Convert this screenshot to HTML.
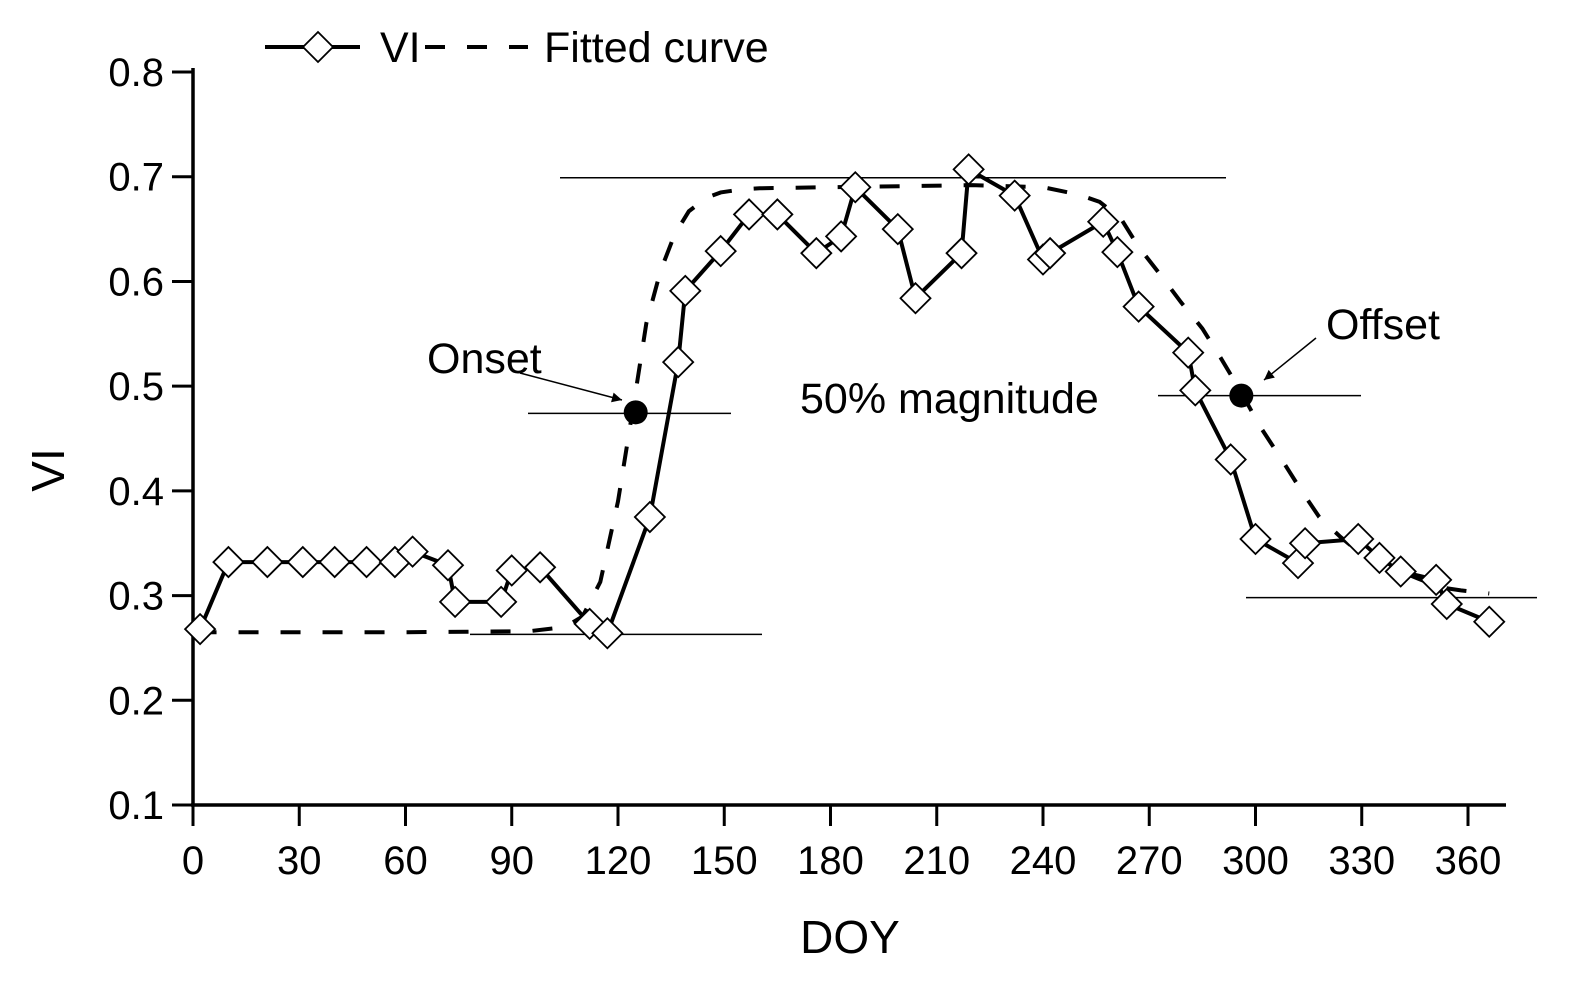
<!DOCTYPE html>
<html><head><meta charset="utf-8"><style>
html,body{margin:0;padding:0;background:#fff;}
svg{display:block;font-family:"Liberation Sans",Arial,sans-serif;}
</style></head><body>
<svg id="chart" width="1572" height="985" viewBox="0 0 1572 985"></svg>
<script>
const xTicks=[0,30,60,90,120,150,180,210,240,270,300,330,360];
const yTicks=[0.1,0.2,0.3,0.4,0.5,0.6,0.7,0.8];
const viDoy=[2,10,21,31,40,49,57,62,72,74,87,90,98,112,117,129,137,139,149,157,165,176,183,187,199,204,217,219,232,240,242,257,261,267,281,283,293,300,312,314,329,335,341,351,354,366];
const viVal=[0.268,0.332,0.332,0.332,0.332,0.332,0.332,0.342,0.329,0.294,0.294,0.324,0.327,0.273,0.264,0.375,0.523,0.591,0.629,0.664,0.664,0.627,0.643,0.690,0.650,0.584,0.627,0.707,0.682,0.621,0.627,0.657,0.628,0.576,0.532,0.496,0.430,0.354,0.331,0.350,0.354,0.336,0.323,0.315,0.292,0.275];
const fitDoy=[1,60,95,105,110,115,120,125,128,132,136,140,145,149,155,160,180,220,240,250,256,262,267,273,279,285,290,296,301,307,313,318,324,329,335,341,346,352,358,366];
const fitVal=[0.265,0.265,0.266,0.270,0.280,0.313,0.390,0.495,0.560,0.610,0.645,0.667,0.680,0.685,0.688,0.689,0.690,0.692,0.690,0.683,0.676,0.660,0.633,0.607,0.580,0.555,0.528,0.494,0.463,0.432,0.400,0.375,0.356,0.342,0.332,0.323,0.316,0.308,0.305,0.302];
const onset=[125,0.475], offset=[296,0.491];
const NS="http://www.w3.org/2000/svg";
const svg=document.getElementById('chart');
const X=d=>193+d*(1275/360);
const Y=v=>805-(v-0.1)*1047.1;
function el(t,a,p){const e=document.createElementNS(NS,t);for(const k in a)e.setAttribute(k,a[k]);(p||svg).appendChild(e);return e;}
let ax=el('line',{x1:193,y1:68,x2:193,y2:806,stroke:'#000','stroke-width':3.5});


ax=el('line',{x1:191,y1:805,x2:1506,y2:805,stroke:'#000','stroke-width':3.5});


yTicks.forEach(v=>{
 const t=el('line',{x1:172,y1:Y(v),x2:193,y2:Y(v),stroke:'#000','stroke-width':3});
 
 
 const l=el('text',{x:164,y:Y(v)+14,'text-anchor':'end','font-size':40});
 l.textContent=v.toFixed(1);
 
 
});
xTicks.forEach(d=>{
 const t=el('line',{x1:X(d),y1:805,x2:X(d),y2:826,stroke:'#000','stroke-width':3});
 
 
 const l=el('text',{x:X(d),y:874,'text-anchor':'middle','font-size':40});
 l.textContent=d;
 
 
});
let t=el('text',{x:850,y:953,'text-anchor':'middle','font-size':46});t.textContent='DOY';


t=el('text',{x:0,y:0,'text-anchor':'middle','font-size':46,transform:'translate(64,470) rotate(-90)'});t.textContent='VI';


function hl(x1,x2,y,name){const l=el('line',{x1:x1,x2:x2,y1:y,y2:y,stroke:'#000','stroke-width':1.5});
 
 }
hl(560,1226,Y(0.699),'max-line');
hl(470,762,Y(0.263),'base-line-left');
hl(528,731,Y(0.474),'onset-line');
hl(1158,1361,Y(0.491),'offset-line');
hl(1246,1537,Y(0.298),'base-line-right');
let p=el('polyline',{points:fitDoy.map((d,i)=>X(d)+','+Y(fitVal[i])).join(' '),fill:'none',stroke:'#000','stroke-width':4,'stroke-dasharray':'20 22'});


p=el('polyline',{points:viDoy.map((d,i)=>X(d)+','+Y(viVal[i])).join(' '),fill:'none',stroke:'#000','stroke-width':4});


viDoy.forEach((d,i)=>{
 const x=X(d),y=Y(viVal[i]);
 const m=el('polygon',{points:`${x},${y-15} ${x+15},${y} ${x},${y+15} ${x-15},${y}`,fill:'#fff',stroke:'#000','stroke-width':1.8});
 
 
});
[[onset,'onset-point'],[offset,'offset-point']].forEach(([o,n])=>{
 const c=el('circle',{cx:X(o[0]),cy:Y(o[1]),r:12,fill:'#000'});
 
 
});
el('defs',{}).innerHTML='<marker id="ah" viewBox="0 0 10 10" refX="10" refY="5" markerWidth="14" markerHeight="10" markerUnits="userSpaceOnUse" orient="auto"><path d="M0,0 L10,5 L0,10 z" fill="#000"/></marker>';
let a=el('line',{x1:520,y1:373,x2:622,y2:400,stroke:'#000','stroke-width':1.5,'marker-end':'url(#ah)'});


a=el('line',{x1:1316,y1:338,x2:1264,y2:380,stroke:'#000','stroke-width':1.5,'marker-end':'url(#ah)'});


t=el('text',{x:427,y:373,'font-size':43});t.textContent='Onset';


t=el('text',{x:1326,y:339,'font-size':43});t.textContent='Offset';


t=el('text',{x:800,y:413,'font-size':43});t.textContent='50% magnitude';


const g=el('g',{});


el('line',{x1:265,y1:47,x2:360,y2:47,stroke:'#000','stroke-width':4},g);
el('polygon',{points:'318,32 333,47 318,62 303,47',fill:'#fff',stroke:'#000','stroke-width':1.8},g);
t=el('text',{x:380,y:62,'font-size':43},g);t.textContent='VI';


el('line',{x1:425,y1:47,x2:528,y2:47,stroke:'#000','stroke-width':4,'stroke-dasharray':'20 22'},g);
t=el('text',{x:544,y:62,'font-size':43},g);t.textContent='Fitted curve';


</script>
</body></html>
